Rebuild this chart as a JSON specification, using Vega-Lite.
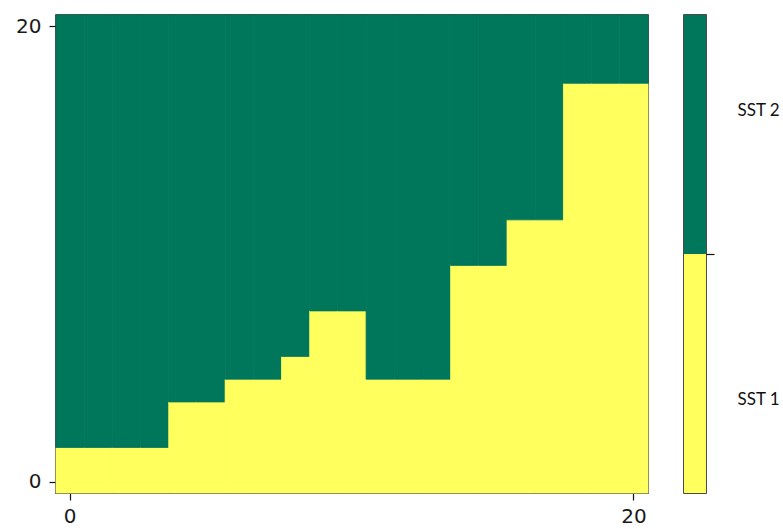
{
  "$schema": "https://vega.github.io/schema/vega-lite/v6.json",
  "padding": {"left": 14, "top": 13, "right": 0, "bottom": 2},
  "background": "white",
  "config": {
    "view": {"stroke": "#111", "strokeWidth": 1.5},
    "axis": {"domain": false, "grid": false, "tickColor": "#111", "tickWidth": 1.2, "labelColor": "#1a1a1a", "title": null}
  },
  "spacing": 33,
  "hconcat": [
    {
      "width": 592,
      "height": 478,
      "data": {"values": [
        {"col": 0, "cls": "SST 1", "lo": -0.5, "hi": 1.5}, {"col": 0, "cls": "SST 2", "lo": 1.5, "hi": 20.5},
        {"col": 1, "cls": "SST 1", "lo": -0.5, "hi": 1.5}, {"col": 1, "cls": "SST 2", "lo": 1.5, "hi": 20.5},
        {"col": 2, "cls": "SST 1", "lo": -0.5, "hi": 1.5}, {"col": 2, "cls": "SST 2", "lo": 1.5, "hi": 20.5},
        {"col": 3, "cls": "SST 1", "lo": -0.5, "hi": 1.5}, {"col": 3, "cls": "SST 2", "lo": 1.5, "hi": 20.5},
        {"col": 4, "cls": "SST 1", "lo": -0.5, "hi": 3.5}, {"col": 4, "cls": "SST 2", "lo": 3.5, "hi": 20.5},
        {"col": 5, "cls": "SST 1", "lo": -0.5, "hi": 3.5}, {"col": 5, "cls": "SST 2", "lo": 3.5, "hi": 20.5},
        {"col": 6, "cls": "SST 1", "lo": -0.5, "hi": 4.5}, {"col": 6, "cls": "SST 2", "lo": 4.5, "hi": 20.5},
        {"col": 7, "cls": "SST 1", "lo": -0.5, "hi": 4.5}, {"col": 7, "cls": "SST 2", "lo": 4.5, "hi": 20.5},
        {"col": 8, "cls": "SST 1", "lo": -0.5, "hi": 5.5}, {"col": 8, "cls": "SST 2", "lo": 5.5, "hi": 20.5},
        {"col": 9, "cls": "SST 1", "lo": -0.5, "hi": 7.5}, {"col": 9, "cls": "SST 2", "lo": 7.5, "hi": 20.5},
        {"col": 10, "cls": "SST 1", "lo": -0.5, "hi": 7.5}, {"col": 10, "cls": "SST 2", "lo": 7.5, "hi": 20.5},
        {"col": 11, "cls": "SST 1", "lo": -0.5, "hi": 4.5}, {"col": 11, "cls": "SST 2", "lo": 4.5, "hi": 20.5},
        {"col": 12, "cls": "SST 1", "lo": -0.5, "hi": 4.5}, {"col": 12, "cls": "SST 2", "lo": 4.5, "hi": 20.5},
        {"col": 13, "cls": "SST 1", "lo": -0.5, "hi": 4.5}, {"col": 13, "cls": "SST 2", "lo": 4.5, "hi": 20.5},
        {"col": 14, "cls": "SST 1", "lo": -0.5, "hi": 9.5}, {"col": 14, "cls": "SST 2", "lo": 9.5, "hi": 20.5},
        {"col": 15, "cls": "SST 1", "lo": -0.5, "hi": 9.5}, {"col": 15, "cls": "SST 2", "lo": 9.5, "hi": 20.5},
        {"col": 16, "cls": "SST 1", "lo": -0.5, "hi": 11.5}, {"col": 16, "cls": "SST 2", "lo": 11.5, "hi": 20.5},
        {"col": 17, "cls": "SST 1", "lo": -0.5, "hi": 11.5}, {"col": 17, "cls": "SST 2", "lo": 11.5, "hi": 20.5},
        {"col": 18, "cls": "SST 1", "lo": -0.5, "hi": 17.5}, {"col": 18, "cls": "SST 2", "lo": 17.5, "hi": 20.5},
        {"col": 19, "cls": "SST 1", "lo": -0.5, "hi": 17.5}, {"col": 19, "cls": "SST 2", "lo": 17.5, "hi": 20.5},
        {"col": 20, "cls": "SST 1", "lo": -0.5, "hi": 17.5}, {"col": 20, "cls": "SST 2", "lo": 17.5, "hi": 20.5}
      ]},
      "mark": {"type": "bar", "strokeWidth": 0.8},
      "encoding": {
        "x": {"field": "col", "type": "ordinal", "scale": {"paddingInner": 0, "paddingOuter": 0},
              "axis": {"values": [0, 20], "labelAngle": 0, "labelFont": "DejaVu Sans", "labelFontSize": 20, "tickSize": 7, "labelPadding": 6}},
        "y": {"field": "lo", "type": "quantitative", "scale": {"domain": [-0.5, 20.5], "nice": false, "zero": false},
              "axis": {"values": [0, 20], "labelFont": "DejaVu Sans", "labelFontSize": 20, "tickSize": 7, "labelPadding": 8}},
        "y2": {"field": "hi"},
        "color": {"field": "cls", "type": "nominal", "scale": {"domain": ["SST 1", "SST 2"], "range": ["#FFFF5E", "#00765A"]}, "legend": null},
        "stroke": {"field": "cls", "type": "nominal", "scale": {"domain": ["SST 1", "SST 2"], "range": ["#FFFF5E", "#00765A"]}, "legend": null}
      }
    },
    {
      "width": 22,
      "height": 478,
      "data": {"values": [
        {"cls": "SST 1", "lo": 0, "hi": 1},
        {"cls": "SST 2", "lo": 1, "hi": 2}
      ]},
      "mark": {"type": "rect", "stroke": null},
      "encoding": {
        "y": {"field": "lo", "type": "quantitative", "scale": {"domain": [0, 2], "nice": false, "zero": false},
              "axis": {"orient": "right", "values": [0.39, 1, 1.6], "tickSize": 8,
                       "tickOpacity": {"condition": {"test": "datum.value === 1", "value": 1}, "value": 0},
                       "labelExpr": "datum.value === 1 ? '' : (datum.value < 1 ? 'SST 1' : 'SST 2')",
                       "labelFont": "Lato", "labelFontSize": 17, "labelPadding": 23, "labelColor": "#111"}},
        "y2": {"field": "hi"},
        "color": {"field": "cls", "type": "nominal", "scale": {"domain": ["SST 1", "SST 2"], "range": ["#FFFF5E", "#00765A"]}, "legend": null}
      }
    }
  ]
}
